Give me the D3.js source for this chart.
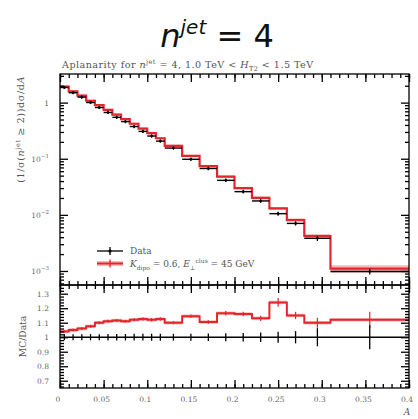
<!DOCTYPE html>
<html><head><meta charset="utf-8">
<script src="https://cdn.jsdelivr.net/npm/d3@7"></script>
<style>body{margin:0;background:#fff}svg{display:block}</style>
</head><body>
<svg id="c" width="418" height="419"></svg>
<script>
// ---- data ----
const binEdges = [0,0.01,0.02,0.03,0.04,0.05,0.06,0.07,0.08,0.09,0.10,0.11,0.12,0.14,0.16,0.18,0.20,0.22,0.24,0.26,0.28,0.31,0.40];
const dataValues = [1.86,1.50,1.255,1.005,0.818,0.667,0.547,0.459,0.375,0.307,0.254,0.206,0.155,0.0978,0.067,0.0412,0.0259,0.0177,0.0105,0.00704,0.00382,0.00098];
const mcValues = [1.93,1.58,1.33,1.08,0.90,0.74,0.61,0.51,0.42,0.345,0.285,0.232,0.170,0.112,0.074,0.048,0.030,0.020,0.013,0.0081,0.0042,0.0011];
const mcBandRel = [0.05,0.05,0.05,0.05,0.05,0.05,0.05,0.05,0.05,0.05,0.05,0.05,0.05,0.05,0.05,0.05,0.05,0.06,0.06,0.07,0.08,0.15];
const dataErrRel = [0.004,0.004,0.004,0.004,0.004,0.005,0.005,0.005,0.006,0.006,0.007,0.007,0.006,0.007,0.008,0.010,0.012,0.015,0.020,0.025,0.045,0.065];
const ratioValues = [1.04,1.05,1.06,1.075,1.10,1.11,1.115,1.11,1.12,1.125,1.12,1.125,1.10,1.145,1.105,1.165,1.16,1.13,1.24,1.15,1.10,1.12];
const ratioMcErr = [0.010,0.010,0.010,0.010,0.010,0.010,0.010,0.010,0.010,0.012,0.012,0.012,0.010,0.012,0.012,0.015,0.015,0.018,0.030,0.025,0.035,0.055];
const xTickLabels = ["0","0.05","0.1","0.15","0.2","0.25","0.3","0.35","0.4"];
const ratioTickLabels = ["0.7","0.8","0.9","1","1.1","1.2","1.3"];
const logTickExps = [0,-1,-2,-3];

const RED = "#e3262d", BAND = "rgba(236,80,80,0.40)";
const L = 60, R = 409, T = 74, MB = 285, RB = 388;
const svg = d3.select("#c");
const serif = "'DejaVu Serif',serif";
const TXT = "#555";

const x = d3.scaleLinear().domain([0,0.4]).range([L,R]);
const y = d3.scaleLog().domain([Math.pow(10,-3.25),Math.pow(10,0.51)]).range([MB,T]);
const yr = d3.scaleLinear().domain([0.65,1.36]).range([RB,MB]);

const bins = dataValues.map((d,i)=>({x0:binEdges[i],x1:binEdges[i+1],data:d,mc:mcValues[i],band:mcBandRel[i],derr:dataErrRel[i],ratio:ratioValues[i],rerr:ratioMcErr[i]}));

// ---- title ----
const title = svg.append("text").attr("x",217).attr("y",47).attr("text-anchor","middle")
  .attr("font-family","'DejaVu Sans',sans-serif").attr("font-size",32).attr("fill","#111");
title.append("tspan").attr("font-style","italic").text("n");
title.append("tspan").attr("font-style","italic").attr("font-size",20).attr("dy",-13).text("jet");
title.append("tspan").attr("dy",13).text(" = 4");

const sub = svg.append("text").attr("x",62).attr("y",68).attr("font-family",serif).attr("font-size",9.6)
  .attr("letter-spacing",0.45).attr("fill",TXT);
sub.append("tspan").text("Aplanarity for ");
sub.append("tspan").attr("font-style","italic").text("n");
sub.append("tspan").attr("font-size",6.5).attr("dy",-4).text("jet");
sub.append("tspan").attr("dy",4).text(" = 4, 1.0 TeV < ");
sub.append("tspan").attr("font-style","italic").text("H");
sub.append("tspan").attr("font-size",6.5).attr("dy",2.5).text("T2");
sub.append("tspan").attr("dy",-2.5).text(" < 1.5 TeV");

// ---- main panel: MC band and line ----
const gMain = svg.append("g");
gMain.selectAll("rect.band").data(bins).join("rect")
  .attr("x",d=>x(d.x0)).attr("width",d=>x(d.x1)-x(d.x0))
  .attr("y",d=>y(d.mc*(1+d.band))).attr("height",d=>y(d.mc*(1-d.band))-y(d.mc*(1+d.band)))
  .attr("fill",BAND);
function stepPath(yfun,key){
  let p="";
  bins.forEach((d,i)=>{
    const yy=yfun(d[key]);
    p += (i===0?"M":"L")+x(d.x0)+","+yy+"L"+x(d.x1)+","+yy;
  });
  return p;
}
gMain.append("path").attr("d",stepPath(y,"mc")).attr("fill","none").attr("stroke",RED).attr("stroke-width",2.2);
// data points
const dp = gMain.selectAll("g.dp").data(bins).join("g");
dp.append("line").attr("x1",d=>x(d.x0)).attr("x2",d=>x(d.x1)).attr("y1",d=>y(d.data)).attr("y2",d=>y(d.data)).attr("stroke","#000").attr("stroke-width",1.4);
dp.append("line").attr("x1",d=>x((d.x0+d.x1)/2)).attr("x2",d=>x((d.x0+d.x1)/2))
  .attr("y1",d=>y(d.data*(1+d.derr))-1.5).attr("y2",d=>y(d.data*(1-d.derr))+1.5).attr("stroke","#000").attr("stroke-width",1.2);
dp.append("circle").attr("cx",d=>x((d.x0+d.x1)/2)).attr("cy",d=>y(d.data)).attr("r",1.3).attr("fill","#000");

// ---- ratio panel ----
const gR = svg.append("g");
gR.selectAll("rect.rb").data(bins).join("rect")
  .attr("x",d=>x(d.x0)).attr("width",d=>x(d.x1)-x(d.x0))
  .attr("y",d=>yr(d.ratio+0.012)).attr("height",d=>yr(d.ratio-0.012)-yr(d.ratio+0.012))
  .attr("fill",BAND);
gR.append("path").attr("d",stepPath(yr,"ratio")).attr("fill","none").attr("stroke",RED).attr("stroke-width",2);
gR.selectAll("line.re").data(bins).join("line")
  .attr("x1",d=>x((d.x0+d.x1)/2)).attr("x2",d=>x((d.x0+d.x1)/2))
  .attr("y1",d=>yr(d.ratio+d.rerr)).attr("y2",d=>yr(d.ratio-d.rerr)).attr("stroke",RED).attr("stroke-width",1.2);
// data at unity
gR.append("line").attr("x1",x(0)).attr("x2",x(0.4)).attr("y1",yr(1)).attr("y2",yr(1)).attr("stroke","#000").attr("stroke-width",1.4);
gR.selectAll("line.de").data(bins).join("line")
  .attr("x1",d=>x((d.x0+d.x1)/2)).attr("x2",d=>x((d.x0+d.x1)/2))
  .attr("y1",d=>yr(1+d.derr)-2.5).attr("y2",d=>yr(1-d.derr)+2.5).attr("stroke","#000").attr("stroke-width",1.3);

// ---- frames ----
svg.append("rect").attr("x",L).attr("y",T).attr("width",R-L).attr("height",MB-T).attr("fill","none").attr("stroke","#000").attr("stroke-width",1.3);
svg.append("rect").attr("x",L).attr("y",MB).attr("width",R-L).attr("height",RB-MB).attr("fill","none").attr("stroke","#000").attr("stroke-width",1.3);

// ---- ticks ----
const xMajor = d3.range(0,0.4001,0.05), xMinor = d3.range(0,0.4001,0.01);
function xTicks(yPos, dir){ // dir: +1 ticks point down, -1 up
  const g=svg.append("g").attr("transform",`translate(0,${yPos})`);
  const mk=()=> (dir>0?d3.axisTop(x):d3.axisBottom(x)).tickFormat("").tickSizeOuter(0);
  g.append("g").call(mk().tickValues(xMinor).tickSizeInner(-4));
  g.append("g").call(mk().tickValues(xMajor).tickSizeInner(-8));
  g.selectAll(".domain").remove();
  g.selectAll("line").attr("stroke-width",1.3);
}
xTicks(T,1); xTicks(MB,-1); xTicks(MB,1); xTicks(RB,-1);

// log y ticks
const yMajor = logTickExps.map(e=>Math.pow(10,e));
const yMinor=[]; [-4,-3,-2,-1,0].forEach(e=>{for(let m=2;m<=9;m++){const v=m*Math.pow(10,e); if(v>y.domain()[0]&&v<y.domain()[1]) yMinor.push(v);}});
function yTicks(scale, major, minor, xPos, left){
  const g=svg.append("g").attr("transform",`translate(${xPos},0)`);
  const mk=()=> (left?d3.axisLeft(scale):d3.axisRight(scale)).tickFormat("").tickSizeOuter(0);
  g.append("g").call(mk().tickValues(minor).tickSizeInner(-4));
  g.append("g").call(mk().tickValues(major).tickSizeInner(-8));
  g.selectAll(".domain").remove();
  g.selectAll("line").attr("stroke-width",1.3);
}
yTicks(y,yMajor,yMinor,L,true); yTicks(y,yMajor,yMinor,R,false);
const rMajor = ratioTickLabels.map(Number);
const rMinor = d3.range(0.66,1.36,0.02).filter(v=>Math.abs(v*10-Math.round(v*10))>1e-6);
yTicks(yr,rMajor,rMinor,L,true); yTicks(yr,rMajor,rMinor,R,false);

// ---- tick labels ----
const lab = svg.append("g").attr("font-family",serif).attr("fill","#666").attr("font-size",7.5);
lab.selectAll("text.xl").data(xTickLabels).join("text")
  .attr("x",d=>x(+d)-2).attr("y",402).attr("text-anchor","middle").text(d=>d);
lab.selectAll("text.rl").data(ratioTickLabels).join("text")
  .attr("x",L-11).attr("y",d=>yr(+d)+3).attr("text-anchor","end").text(d=>d);
logTickExps.forEach(e=>{
  const t=lab.append("text").attr("x",L-11).attr("y",y(Math.pow(10,e))+3).attr("text-anchor","end");
  if(e===0){ t.text("1"); }
  else { t.append("tspan").text("10"); t.append("tspan").attr("font-size",5.5).attr("dy",-4).text("−"+(-e)); }
});

// axis titles
const yl = svg.append("text").attr("transform","translate(24,76) rotate(-90)").attr("text-anchor","end")
  .attr("font-family",serif).attr("font-size",9.6).attr("letter-spacing",0.6).attr("fill",TXT);
yl.append("tspan").text("(1/σ(");
yl.append("tspan").attr("font-style","italic").text("n");
yl.append("tspan").attr("font-size",6.5).attr("dy",-4).text("jet");
yl.append("tspan").attr("dy",4).text(" ≥ 2))dσ/d");
yl.append("tspan").attr("font-style","italic").text("A");
svg.append("text").attr("transform",`translate(26,${(MB+RB)/2}) rotate(-90)`).attr("text-anchor","middle")
  .attr("font-family",serif).attr("font-size",9.2).attr("fill",TXT).text("MC/Data");
svg.append("text").attr("x",R-2).attr("y",415).attr("text-anchor","middle").attr("font-family",serif)
  .attr("font-style","italic").attr("font-size",9).attr("fill",TXT).text("A");

// ---- legend ----
const lg = svg.append("g");
lg.append("line").attr("x1",97).attr("x2",123).attr("y1",251).attr("y2",251).attr("stroke","#000").attr("stroke-width",1.3);
lg.append("line").attr("x1",110).attr("x2",110).attr("y1",247).attr("y2",255).attr("stroke","#000").attr("stroke-width",1.3);
lg.append("circle").attr("cx",110).attr("cy",251).attr("r",1.6).attr("fill","#000");
lg.append("text").attr("x",130).attr("y",254).attr("font-family",serif).attr("font-size",9).attr("fill",TXT).text("Data");
lg.append("rect").attr("x",97).attr("y",261).attr("width",26).attr("height",5).attr("fill",BAND);
lg.append("line").attr("x1",97).attr("x2",123).attr("y1",263.5).attr("y2",263.5).attr("stroke",RED).attr("stroke-width",2);
lg.append("line").attr("x1",110).attr("x2",110).attr("y1",259.5).attr("y2",267.5).attr("stroke",RED).attr("stroke-width",1.3);
const lt = lg.append("text").attr("x",130).attr("y",267).attr("font-family",serif).attr("font-size",9).attr("fill",TXT);
lt.append("tspan").attr("font-style","italic").text("K");
lt.append("tspan").attr("font-size",6).attr("dy",2.5).text("dipo");
lt.append("tspan").attr("dy",-2.5).text(" = 0.6, ");
lt.append("tspan").attr("font-style","italic").text("E");
lt.append("tspan").attr("font-size",6).attr("dy",2.5).text("⊥");
lt.append("tspan").attr("font-size",6).attr("dy",-6.5).text("clus");
lt.append("tspan").attr("dy",4).text(" = 45 GeV");
</script>
</body></html>
